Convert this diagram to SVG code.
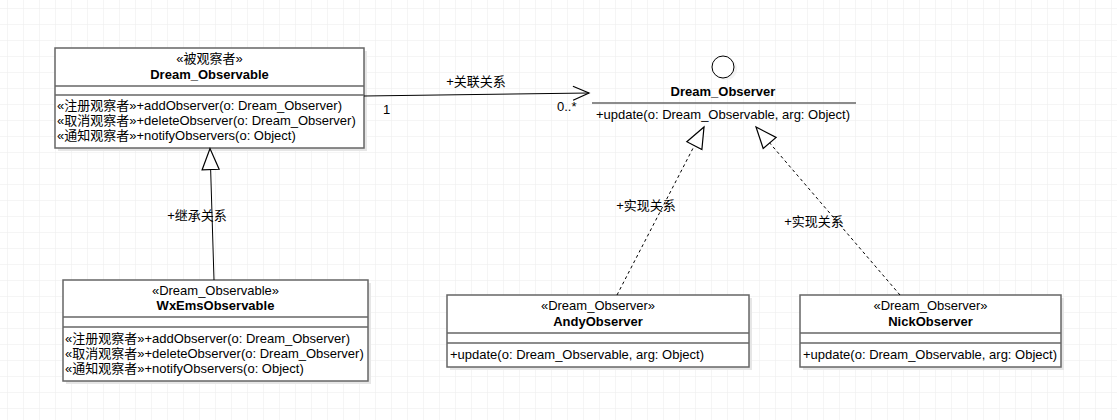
<svg xmlns="http://www.w3.org/2000/svg" width="1117" height="420" viewBox="0 0 1117 420">
<defs>
<pattern id="grid" x="7" y="8" width="16" height="16" patternUnits="userSpaceOnUse">
<path d="M0 0H16M0 0V16" fill="none" stroke="#ebebeb" stroke-width="1"/>
</pattern>
<marker id="open" viewBox="0 0 20 20" refX="18" refY="10" markerWidth="20" markerHeight="20" markerUnits="userSpaceOnUse" orient="auto">
<path d="M2 3L18 10L2 17" fill="none" stroke="#000" stroke-width="1.2"/>
</marker>
<marker id="tri" viewBox="0 0 24 20" refX="22" refY="10" markerWidth="24" markerHeight="20" markerUnits="userSpaceOnUse" orient="auto">
<path d="M1 1.5L22 10L1 18.5Z" fill="#fff" stroke="#000" stroke-width="1.2"/>
</marker>
</defs>
<style>
text{font-family:"Liberation Sans","Noto Sans CJK SC",sans-serif;font-size:13px;fill:#000}
.c{text-anchor:middle}
.b{font-weight:bold}
.box{fill:#fff;stroke:#666;stroke-width:1.5}
.sh{fill:#e6e6e6}
.div{stroke:#666;stroke-width:1.5}
.ln{fill:none;stroke:#000;stroke-width:1}
.dash{stroke-dasharray:3,3}
</style>
<rect width="1117" height="420" fill="#fff"/>
<rect width="1117" height="420" fill="url(#grid)"/>

<g id="Dream_Observable">
<rect class="sh" x="58" y="51" width="309" height="100"/>
<rect class="box" x="55" y="48" width="309" height="100"/>
<line class="div" x1="55" y1="86" x2="364" y2="86"/>
<line class="div" x1="55" y1="95" x2="364" y2="95"/>
<text class="c" x="209.5" y="63">«被观察者»</text>
<text class="c b" x="209.5" y="79">Dream_Observable</text>
<text x="57" y="110">«注册观察者»+addObserver(o: Dream_Observer)</text>
<text x="57" y="125">«取消观察者»+deleteObserver(o: Dream_Observer)</text>
<text x="57" y="140">«通知观察者»+notifyObservers(o: Object)</text>
</g>

<g id="WxEmsObservable">
<rect class="sh" x="66" y="283" width="305" height="101"/>
<rect class="box" x="63" y="280" width="305" height="101"/>
<line class="div" x1="63" y1="317" x2="368" y2="317"/>
<line class="div" x1="63" y1="327" x2="368" y2="327"/>
<text class="c" x="215.5" y="295">«Dream_Observable»</text>
<text class="c b" x="215.5" y="310">WxEmsObservable</text>
<text x="65" y="343">«注册观察者»+addObserver(o: Dream_Observer)</text>
<text x="65" y="358">«取消观察者»+deleteObserver(o: Dream_Observer)</text>
<text x="65" y="373">«通知观察者»+notifyObservers(o: Object)</text>
</g>

<g id="Dream_Observer">
<circle cx="726" cy="69" r="11" fill="#eee" opacity="0.7"/>
<circle cx="723" cy="67" r="11" fill="#fff" stroke="#000" stroke-width="1"/>
<text class="c b" x="723" y="96">Dream_Observer</text>
<line class="div" x1="592" y1="103" x2="856" y2="103"/>
<text x="596" y="119">+update(o: Dream_Observable, arg: Object)</text>
</g>

<g id="AndyObserver">
<rect class="sh" x="450" y="298" width="302" height="72"/>
<rect class="box" x="447" y="295" width="302" height="72"/>
<line class="div" x1="447" y1="333" x2="749" y2="333"/>
<line class="div" x1="447" y1="343" x2="749" y2="343"/>
<text class="c" x="598" y="310">«Dream_Observer»</text>
<text class="c b" x="598" y="326">AndyObserver</text>
<text x="450" y="359">+update(o: Dream_Observable, arg: Object)</text>
</g>

<g id="NickObserver">
<rect class="sh" x="803" y="298" width="261" height="72"/>
<rect class="box" x="800" y="295" width="261" height="72"/>
<line class="div" x1="800" y1="333" x2="1061" y2="333"/>
<line class="div" x1="800" y1="343" x2="1061" y2="343"/>
<text class="c" x="930.5" y="310">«Dream_Observer»</text>
<text class="c b" x="930.5" y="326">NickObserver</text>
<text x="803" y="359">+update(o: Dream_Observable, arg: Object)</text>
</g>

<g id="connectors">
<line class="ln" x1="364" y1="96" x2="589" y2="93" marker-end="url(#open)"/>
<text class="c" x="476" y="86">+关联关系</text>
<text x="383" y="114">1</text>
<text x="557" y="111">0..*</text>

<line class="ln" x1="214" y1="280" x2="210" y2="148.5" marker-end="url(#tri)"/>
<text class="c" x="197" y="220">+继承关系</text>

<line class="ln dash" x1="617" y1="295" x2="704" y2="127" marker-end="url(#tri)"/>
<text class="c" x="646" y="210">+实现关系</text>

<line class="ln dash" x1="900" y1="295" x2="756" y2="127" marker-end="url(#tri)"/>
<text class="c" x="814" y="226">+实现关系</text>
</g>
</svg>
